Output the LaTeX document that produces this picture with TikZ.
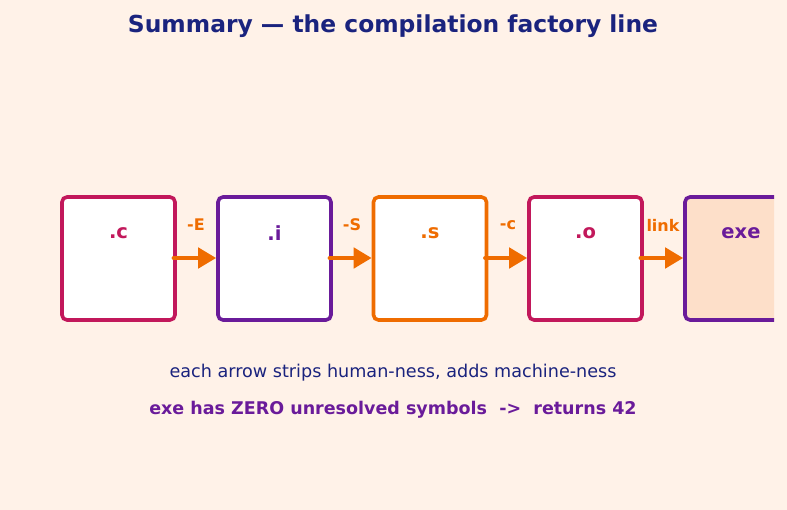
\documentclass[tikz,border=0pt]{standalone}
\usepackage{fontspec}
\setmainfont{DejaVu Sans}
\usetikzlibrary{arrows.meta}
\definecolor{bgc}{HTML}{FFF2E8}
\definecolor{navy}{HTML}{1A237E}
\definecolor{crim}{HTML}{C2185B}
\definecolor{purp}{HTML}{6A1B9A}
\definecolor{orng}{HTML}{EF6C00}
\definecolor{exefill}{HTML}{FDDFC9}
\tikzset{
  stage/.style={draw, line width=3.6pt, rounded corners=5pt, fill=white, minimum width=113pt, minimum height=123pt, inner sep=0pt},
  stagetxt/.style={font=\fontsize{19.5}{22}\selectfont\bfseries, inner sep=0pt},
  flow/.style={draw=orng, line width=4.5pt, line cap=round, -{Triangle[length=18pt,width=20pt]}, shorten >=0pt},
  flowlbl/.style={text=orng, font=\fontsize{16}{18}\selectfont\bfseries, inner sep=0pt}
}
\begin{document}
\begin{tikzpicture}[x=1pt,y=-1pt]
\fill[bgc] (0,0) rectangle (787,510);
\useasboundingbox (0,0) rectangle (787,510);
\node[text=navy, font=\fontsize{23.4}{26}\selectfont\bfseries] (title) at (393,26.5) {Summary — the compilation factory line};
\node[stage, draw=crim] (c) at (118.5,258.5) {};
\node[stage, draw=purp] (i) at (274.5,258.5) {};
\node[stage, draw=orng] (s) at (430,258.5) {};
\node[stage, draw=crim] (o) at (585.5,258.5) {};
\begin{scope}
\clip (0,0) rectangle (774,510);
\node[stage, draw=purp, fill=exefill] (exe) at (741.5,258.5) {};
\end{scope}
\node[stagetxt, text=crim] (ct) at (118.5,233) {.c};
\node[stagetxt, text=purp] (it) at (274.5,233) {.i};
\node[stagetxt, text=orng] (st) at (430,233) {.s};
\node[stagetxt, text=crim] (ot) at (585.5,233) {.o};
\node[stagetxt, text=purp] (et) at (741,233) {exe};
\draw[flow] ([xshift=-3pt]c.east |- 0,258) -- (i.west |- 0,258);
\draw[flow] ([xshift=-3pt]i.east |- 0,258) -- (s.west |- 0,258);
\draw[flow] ([xshift=-3pt]s.east |- 0,258) -- (o.west |- 0,258);
\draw[flow] ([xshift=-3pt]o.east |- 0,258) -- (exe.west |- 0,258);
\node[flowlbl] (l1) at (196,225) {-E};
\node[flowlbl] (l2) at (352,225) {-S};
\node[flowlbl] (l3) at (508,225) {-c};
\node[flowlbl] (l4) at (663,225) {link};
\node[text=navy, font=\fontsize{17.6}{20}\selectfont] (n1) at (393,372.5) {each arrow strips human-ness, adds machine-ness};
\node[text=purp, font=\fontsize{17.5}{20}\selectfont\bfseries] (n2) at (393,409.5) {exe has ZERO unresolved symbols~~->~~returns 42};
\end{tikzpicture}
\end{document}
